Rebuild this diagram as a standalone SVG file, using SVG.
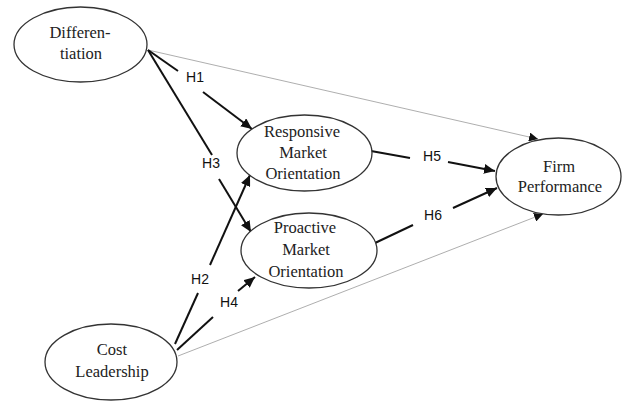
<svg xmlns="http://www.w3.org/2000/svg" width="624" height="402" viewBox="0 0 624 402">
<style>
.node{fill:#fff;stroke:#333;stroke-width:1.3}
.t{font-family:"Liberation Serif","Times New Roman",serif;font-size:16.5px;fill:#222;text-anchor:middle}
.h{font-family:"Liberation Sans",Arial,sans-serif;font-size:14px;fill:#111;text-anchor:middle}
.thick{stroke:#111;stroke-width:2;fill:none}
.thin{stroke:#999;stroke-width:0.8;fill:none}
</style>
<defs>
<marker id="ah" markerUnits="userSpaceOnUse" markerWidth="12" markerHeight="10" refX="11" refY="5" orient="auto">
<path d="M0,0 L11,5 L0,10 Z" fill="#111"/>
</marker>
<marker id="as" markerUnits="userSpaceOnUse" markerWidth="10" markerHeight="9" refX="9" refY="4.5" orient="auto">
<path d="M0,0 L9,4.5 L0,9 Z" fill="#111"/>
</marker>
</defs>
<rect width="624" height="402" fill="#fff"/>
<g id="connectors">
<line class="thin" x1="148" y1="50" x2="538" y2="139" marker-end="url(#as)"/>
<line class="thin" x1="178" y1="356" x2="543" y2="214" marker-end="url(#as)"/>
<line class="thick" x1="148" y1="50" x2="178" y2="71"/>
<line class="thick" x1="203" y1="92" x2="252" y2="129" marker-end="url(#ah)"/>
<text class="h" x="195" y="82">H1</text>
<line class="thick" x1="148" y1="50" x2="212" y2="155"/>
<line class="thick" x1="219" y1="179" x2="251" y2="232" marker-end="url(#ah)"/>
<text class="h" x="211" y="168">H3</text>
<line class="thick" x1="175" y1="344" x2="198" y2="293"/>
<line class="thick" x1="210" y1="265" x2="250" y2="175" marker-end="url(#ah)"/>
<text class="h" x="200" y="284">H2</text>
<line class="thick" x1="177" y1="350" x2="213" y2="317"/>
<line class="thick" x1="238" y1="291" x2="255" y2="277" marker-end="url(#ah)"/>
<text class="h" x="229" y="307">H4</text>
<line class="thick" x1="371" y1="151" x2="410" y2="158"/>
<line class="thick" x1="448" y1="162" x2="495" y2="171" marker-end="url(#ah)"/>
<text class="h" x="432" y="161">H5</text>
<line class="thick" x1="375" y1="243" x2="413" y2="225"/>
<line class="thick" x1="453" y1="208" x2="497" y2="188" marker-end="url(#ah)"/>
<text class="h" x="433" y="220">H6</text>
</g>
<g id="differentiation">
<ellipse class="node" cx="80.5" cy="44.5" rx="66.5" ry="37.5"/>
<text class="t" x="80" y="38">Differen-</text>
<text class="t" x="81" y="59">tiation</text>
</g>
<g id="responsive">
<ellipse class="node" cx="304.5" cy="153" rx="67.5" ry="38"/>
<text class="t" x="302" y="137">Responsive</text>
<text class="t" x="303" y="158">Market</text>
<text class="t" x="303" y="179">Orientation</text>
</g>
<g id="proactive">
<ellipse class="node" cx="309" cy="250.5" rx="68" ry="37.5"/>
<text class="t" x="305" y="233">Proactive</text>
<text class="t" x="306" y="255">Market</text>
<text class="t" x="306" y="277">Orientation</text>
</g>
<g id="firm">
<ellipse class="node" cx="558.5" cy="176.5" rx="62.5" ry="38.5"/>
<text class="t" x="559" y="172">Firm</text>
<text class="t" x="560" y="192">Performance</text>
</g>
<g id="cost">
<ellipse class="node" cx="111" cy="362" rx="66" ry="38"/>
<text class="t" x="112" y="355">Cost</text>
<text class="t" x="112" y="377">Leadership</text>
</g>
</svg>
